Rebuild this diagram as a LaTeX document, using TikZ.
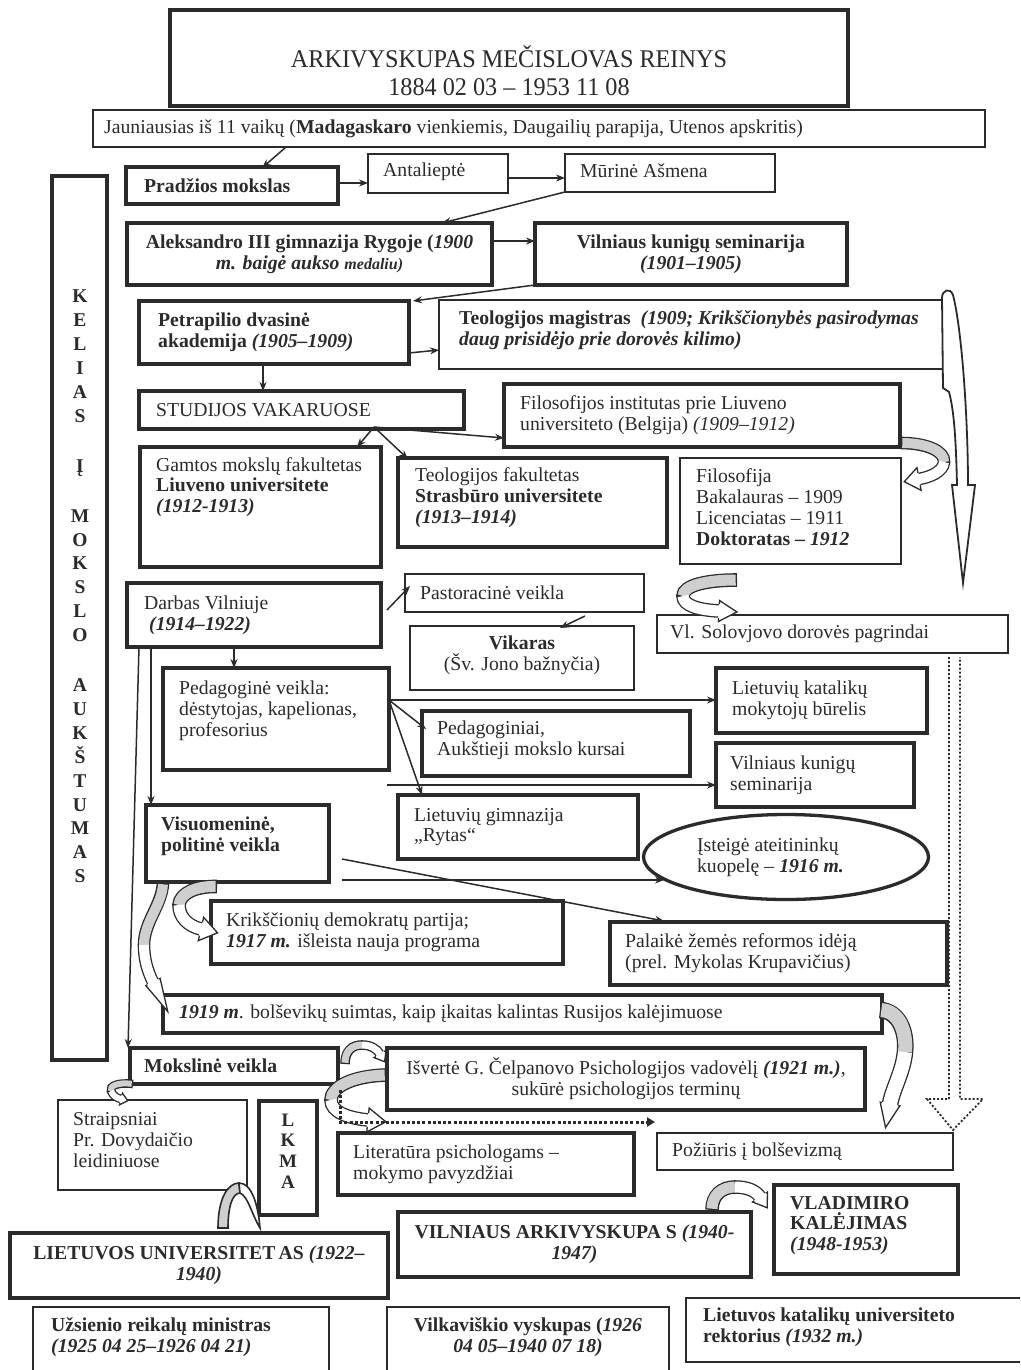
\documentclass[tikz,border=0pt]{standalone}
\usepackage{fontspec}
\setmainfont{Liberation Serif}
\newfontfamily\titlefont{Liberation Serif}[FakeStretch=0.95]
\usetikzlibrary{arrows.meta,shapes.geometric,calc,decorations.markings}

\definecolor{ink}{HTML}{2B2B2B}
\definecolor{bandgray}{HTML}{CFCFCF}

\newcommand{\fs}{\fontsize{19.7}{20.8}\selectfont}

\tikzset{
 bx/.style={draw=ink, inner sep=0pt, outer sep=0pt, rectangle},
 thk/.style={bx, line width=3.3pt},
 thn/.style={bx, line width=2.2pt},
 txt/.style={font=\fs, text=ink, inner sep=0pt},
 lt/.style 2 args={label={[txt, anchor=west, align=left, xshift=#1pt]west:{#2}}},
 ltv/.style n args={3}{label={[txt, anchor=west, align=left, xshift=#1pt, yshift=#2pt]west:{#3}}},
 ct/.style={label={[txt, anchor=center, align=center]center:{#1}}},
 ctv/.style 2 args={label={[txt, anchor=center, align=center, yshift=#1pt]center:{#2}}},
 arr/.style={draw=ink, line width=1.5pt, -{Stealth[length=9pt,width=7pt]}},
}

\newcommand{\bx}[7]{%
 \pgfmathsetmacro\bxw{#4-#2}\pgfmathsetmacro\bxh{#5-#3}%
 \node[#6, anchor=north west, minimum width=\bxw pt, minimum height=\bxh pt, #7] (#1) at (#2,#3) {};}

\newcommand{\headshape}[3]{%
 \pgfmathsetmacro\hb{#1/2+1.3}%
 \fill[white] (-0.4,-#2) -- (#3,0) -- (-0.4,#2) -- cycle;
 \draw[ink, line width=1.3pt, line join=miter] (0,-\hb) -- (0,-#2) -- (#3,0) -- (0,#2) -- (0,\hb);}

\newcommand{\carr}[9]{%
 \pgfmathsetmacro\cow{#1+2.6}%
 \draw[ink, line width=\cow pt] #2 .. controls #3 and #4 .. #5 .. controls #6 and #7 .. #8;
 \draw[bandgray, line width=#1pt, shorten <=1.3pt] #2 .. controls #3 and #4 .. #5;
 \draw[white, line width=#1pt] #5 .. controls #6 and #7 .. #8;
 \path[decoration={markings, mark=at position 0.999 with {\headshape{#1}#9}}, decorate] #5 .. controls #6 and #7 .. #8;}

\begin{document}
\begin{tikzpicture}[x=1pt,y=-1pt]
\useasboundingbox (0,0) rectangle (1020,1370);
\fill[white] (0,0) rectangle (1020,1370);
\clip (0,0) rectangle (1020,1370);

% ---------------- boxes ----------------
\bx{title}{170}{10}{848}{106}{bx, line width=4pt}{label={[txt, font=\titlefont\fontsize{25.5}{27.5}\selectfont, align=center, anchor=center, yshift=-12.5pt]center:{ARKIVYSKUPAS MEČISLOVAS REINYS\\1884 02 03 – 1953 11 08}}}
\bx{jau}{93}{110}{985}{147}{thn}{lt={11}{Jauniausias iš 11 vaikų (\textbf{Madagaskaro} vienkiemis, Daugailių parapija, Utenos apskritis)}}
\bx{prad}{126}{167}{338}{204}{thk}{lt={18}{\textbf{Pradžios mokslas}}}
\bx{ant}{368}{154}{508}{193}{thn}{ltv={15}{2}{Antalieptė}}
\bx{mur}{565}{154}{775}{192}{thn}{ltv={15}{2}{Mūrinė Ašmena}}
\bx{kel}{52}{176}{107}{1060}{thk}{}
\node[txt, font=\fontsize{19.5}{23.9}\selectfont\bfseries, align=center] (keltxt) at (80,586.5) {K\\E\\L\\I\\A\\S\\[26pt]Į\\[26pt]M\\O\\K\\S\\L\\O\\[26pt]A\\U\\K\\Š\\T\\U\\M\\A\\S};
\bx{alek}{127}{223}{492}{285}{thk}{ct={\textbf{Aleksandro III gimnazija Rygoje (\textit{1900}}\\\textbf{\textit{m. baigė aukso} {\fontsize{16}{19}\selectfont\textit{medaliu)}}}}}
\bx{vks1}{535}{223}{847}{285}{thk}{ct={\textbf{Vilniaus kunigų seminarija}\\\textbf{\textit{(1901–1905)}}}}
\bx{petr}{139}{301}{409}{364}{thk}{lt={19}{\textbf{Petrapilio dvasinė}\\\textbf{akademija \textit{(1905–1909)}}}}
\bx{teol}{439}{300}{943}{369}{thn}{ltv={20}{4}{\textbf{Teologijos magistras \ \textit{(1909; Krikščionybės pasirodymas}}\\\textbf{\textit{daug prisidėjo prie dorovės kilimo)}}}}
\bx{stud}{139}{391}{464}{429}{thk}{lt={17}{STUDIJOS VAKARUOSE}}
\bx{fili}{504}{384}{900}{447}{thk}{lt={16}{Filosofijos institutas prie Liuveno\\universiteto (Belgija) \textit{(1909–1912)}}}
\bx{gamt}{140}{447}{381}{567}{thk}{ltv={16}{20}{Gamtos mokslų fakultetas\\\textbf{Liuveno universitete}\\\textbf{\textit{(1912-1913)}}}}
\bx{teolf}{398}{458}{667}{547}{thk}{ltv={17}{5}{Teologijos fakultetas\\\textbf{Strasbūro universitete}\\\textbf{\textit{(1913–1914)}}}}
\bx{filo}{680}{458}{901}{564}{thn}{ltv={16}{4}{Filosofija\\Bakalauras – 1909\\Licenciatas – 1911\\\textbf{Doktoratas – \textit{1912}}}}
\bx{darb}{127}{583}{381}{647}{thk}{lt={17}{Darbas Vilniuje\\\hspace*{5pt}\textbf{\textit{(1914–1922)}}}}
\bx{past}{405}{574}{644}{612}{thn}{lt={15}{Pastoracinė veikla}}
\bx{vik}{410}{626}{634}{690}{thn}{ctv={3}{\textbf{Vikaras}\\(Šv. Jono bažnyčia)}}
\bx{solov}{657}{615}{1008}{653}{thn}{lt={13}{Vl. Solovjovo dorovės pagrindai}}
\bx{ped}{163}{668}{389}{770}{thk}{ltv={16}{8}{Pedagoginė veikla:\\dėstytojas, kapelionas,\\profesorius}}
\bx{lkat}{716}{668}{927}{733}{thk}{lt={16}{Lietuvių katalikų\\mokytojų būrelis}}
\bx{pedg}{422}{711}{690}{776}{thk}{ltv={15}{3}{Pedagoginiai,\\Aukštieji mokslo kursai}}
\bx{vks2}{716}{743}{914}{807}{thk}{lt={14}{Vilniaus kunigų\\seminarija}}
\bx{gimn}{398}{795}{638}{859}{thk}{lt={16}{Lietuvių gimnazija\\„Rytas“}}
\bx{visu}{146}{805}{329}{882}{thk}{ltv={15}{7}{\textbf{Visuomeninė,}\\\textbf{politinė veikla}}}
\node[ellipse, draw=ink, line width=3.3pt, inner sep=0pt, minimum width=285pt, minimum height=85pt, label={[txt, anchor=west, align=left, xshift=55pt]west:{Įsteigė ateitininkų\\kuopelę – \textbf{\textit{1916 m.}}}}] (ell) at (786,857) {};
\bx{krik}{211}{901}{563}{964}{thk}{lt={15}{Krikščionių demokratų partija;\\\textbf{\textit{1917 m.}} išleista nauja programa}}
\bx{pal}{610}{922}{947}{985}{thk}{lt={15}{Palaikė žemės reformos idėją\\(prel. Mykolas Krupavičius)}}
\bx{b1919}{163}{995}{882}{1033}{thk}{lt={16}{\textbf{\textit{1919 m}}. bolševikų suimtas, kaip įkaitas kalintas Rusijos kalėjimuose}}
\bx{mok}{130}{1048}{338}{1084}{thk}{lt={14}{\textbf{Mokslinė veikla}}}
\bx{isv}{387}{1048}{865}{1110}{thk}{ct={Išvertė G. Čelpanovo Psichologijos vadovėlį \textbf{\textit{(1921 m.)}},\\sukūrė psichologijos terminų}}
\bx{str}{58}{1100}{247}{1190}{thn}{ltv={15}{5}{Straipsniai\\Pr. Dovydaičio\\leidiniuose}}
\bx{lkma}{259}{1101}{317}{1215}{thk}{}
\node[txt, font=\fontsize{19}{20.7}\selectfont\bfseries, align=center] (lkmatxt) at (288,1151) {L\\K\\M\\A};
\bx{lit}{338}{1133}{634}{1195}{thk}{lt={15}{Literatūra psichologams –\\mokymo pavyzdžiai}}
\bx{poz}{657}{1133}{953}{1170}{thn}{lt={15}{Požiūris į bolševizmą}}
\bx{lu}{10}{1233}{388}{1298}{bx, line width=4pt}{ct={\textbf{LIETUVOS UNIVERSITET\,AS \textit{(1922–}}\\\textbf{\textit{1940)}}}}
\bx{varch}{398}{1212}{751}{1277}{thk}{ct={\textbf{VILNIAUS ARKIVYSKUPA S \textit{(1940-}}\\\textbf{\textit{1947)}}}}
\bx{vlad}{774}{1185}{958}{1274}{thk}{ltv={16}{4}{\textbf{VLADIMIRO}\\\textbf{KALĖJIMAS}\\\textbf{\textit{(1948-1953)}}}}
\bx{uzs}{33}{1307}{329}{1380}{thn}{ltv={18}{6.5}{\textbf{Užsienio reikalų ministras}\\\textbf{\textit{(1925 04 25–1926 04 21)}}}}
\bx{vilk}{387}{1307}{669}{1380}{thn}{ctv={6.5}{\textbf{Vilkaviškio vyskupas (\textit{1926}}\\\textbf{\textit{04 05–1940 07 18)}}}}
\bx{lkatu}{686}{1298}{1025}{1362}{thn}{ltv={17}{3}{\textbf{Lietuvos katalikų universiteto}\\\textbf{rektorius \textit{(1932 m.)}}}}

% ---------------- straight arrows ----------------
\draw[arr] ($(jau.south west)+(193,0)$) -- ($(prad.north west)+(136,1)$);
\draw[arr] ($(prad.north east)+(0,16)$) -- ($(ant.north west)+(0,29)$);
\draw[arr] ($(ant.north east)+(0,24)$) -- ($(mur.north west)+(0,24)$);
\draw[arr] (mur.south west) -- ($(alek.north west)+(315,0)$);
\draw[arr] ($(alek.north east)+(0,18)$) -- ($(vks1.north west)+(0,18)$);
\draw[arr] (vks1.south west) -- ($(petr.north east)+(4,0)$);
\draw[arr] ($(petr.north east)+(0,52)$) -- ($(teol.north west)+(0,50)$);
\draw[arr] ($(petr.south west)+(124,0)$) -- ($(stud.north west)+(124,0)$);
\coordinate (sfork) at ($(stud.south west)+(235,-2)$);
\draw[arr] (sfork) -- ($(gamt.north west)+(217,0)$);
\draw[arr] (sfork) -- ($(teolf.north west)+(10,1)$);
\draw[arr] (sfork) -- ($(fili.south west)+(0,-9)$);
\draw[arr] ($(darb.north east)+(6,27)$) -- ($(past.north west)+(5,12)$);
\draw[arr] ($(past.south west)+(180,4)$) -- ($(vik.north west)+(150,2)$);
\draw[arr] ($(darb.south west)+(107,0)$) -- ($(ped.north west)+(71,0)$);
\draw[arr] ($(darb.south west)+(24,0)$) -- ($(visu.north west)+(5,0)$);
\draw[arr] ($(darb.south west)+(12,0)$) -- ($(mok.north west)+(-2,0)$);
\coordinate (pfork) at ($(ped.north east)+(0,32)$);
\draw[arr] (pfork) -- ($(lkat.north west)+(0,32)$);
\draw[arr] (pfork) -- ($(pedg.north west)+(4,18)$);
\draw[arr] (pfork) -- ($(gimn.north west)+(24,0)$);
\coordinate (vfree) at ($(ped.south east)+(-2,15)$);
\draw[arr] (vfree) -- ($(vks2.north west)+(0,42)$);
\draw[arr] ($(visu.north east)+(13,54)$) -- ($(pal.north west)+(54,-1)$);
\draw[arr] ($(visu.south east)+(13,-2)$) -- ($(ell.center)+(-122,23)$);

% ---------------- big white arrow ----------------
\draw[ink, line width=1.8pt, fill=white, line join=miter] (942,298) .. controls (942,290) and (950,287) .. (953,295) .. controls (962,330) and (968,420) .. (968,485) -- (975,485) -- (963,583) -- (952,485) -- (957,485) .. controls (956,440) and (954,410) .. (949,392) -- (943,388) -- cycle;

% ---------------- curved band arrows ----------------
\carr{10}{(901,443)}{(926,443)}{(945,451)}{(944,462)}{(943,472)}{(930,477)}{(919,479)}{{11.5}{15}}
\carr{11}{(737,580)}{(708,580)}{(683,585)}{(683,596)}{(683,606)}{(700,610)}{(719,611)}{{10.5}{18}}
\carr{11}{(217,886.5)}{(196,886)}{(180,893)}{(179,905)}{(179,917)}{(188,926)}{(201,929)}{{12}{17}}
\carr{10}{(163,883)}{(162,905)}{(144,922)}{(144,945)}{(144,960)}{(148,972)}{(153,982)}{{8}{33}}
\carr{14}{(880,1010)}{(898,1011)}{(907,1030)}{(905,1052)}{(903,1072)}{(893,1088)}{(890,1104)}{{10}{24}}
\carr{7}{(345,1064)}{(345,1051)}{(352,1045)}{(362,1045)}{(371,1045)}{(377,1049)}{(380,1054)}{{7}{9}}
\carr{11}{(386,1075)}{(352,1076)}{(331,1087)}{(331,1100)}{(331,1112)}{(348,1118)}{(368,1120)}{{12}{18}}
\carr{6}{(133,1084)}{(118,1082)}{(109,1086)}{(111,1091)}{(113,1096)}{(117,1098)}{(121,1099)}{{6}{7}}
\carr{11}{(712,1210)}{(712,1195)}{(722,1187)}{(735,1187)}{(748,1187)}{(756,1191)}{(760,1197)}{{9}{13}}

% arch between LIETUVOS UNIVERSITETAS and LKMA
\draw[ink, line width=1.6pt, fill=bandgray] (218,1228) .. controls (218,1198) and (228,1183) .. (239,1183) -- (240,1193) .. controls (233,1193) and (228,1205) .. (228,1228) -- cycle;
\draw[ink, line width=1.6pt, fill=white] (239,1183) .. controls (252,1183) and (258,1205) .. (260,1228) .. controls (252,1215) and (248,1196) .. (240,1193) -- cycle;

% ---------------- dotted arrows ----------------
\draw[ink, line width=1.8pt, dash pattern=on 2pt off 2pt] ($(solov.south west)+(292,4)$) -- (949,1099) -- (927,1099) -- (953,1130) -- (983,1099) -- (960,1099) -- ($(solov.south west)+(303,4)$);
\draw[ink, line width=3pt, dash pattern=on 3pt off 2.2pt, -{Triangle[length=8pt,width=9pt]}] ($(mok.south east)+(2,6)$) -- ($(mok.south east)+(2,38)$) -- ($(poz.north west)+(-2,-11)$);

\end{tikzpicture}
\end{document}
